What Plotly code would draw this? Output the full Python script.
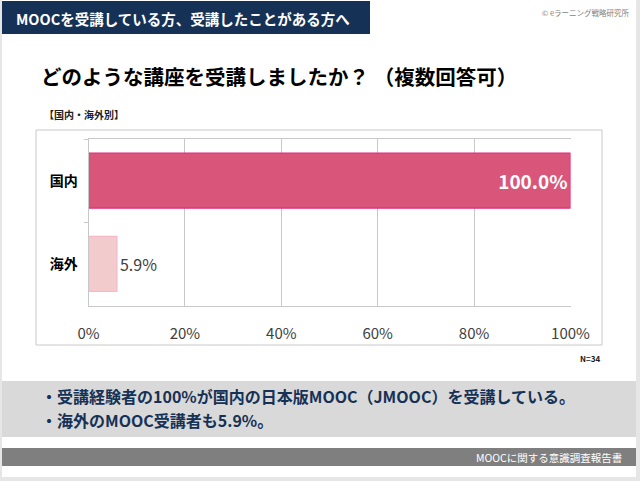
import plotly.graph_objects as go

categories = ["国内", "海外"]
values = [100.0, 5.9]
x_ticks = [0, 20, 40, 60, 80, 100]
x_tick_labels = ["0%", "20%", "40%", "60%", "80%", "100%"]

W, H = 640, 481
def px(x): return x / W
def py(y): return 1 - y / H

JP = "Noto Sans CJK JP"

fig = go.Figure()
fig.add_trace(go.Bar(
    y=categories, x=values, orientation="h",
    marker=dict(color=["#d9567a", "#f2cccc"],
                line=dict(color=["#e0287a", "#f5b8cb"], width=1.2)),
    text=[f"<b>{values[0]:.1f}%</b>", f"{values[1]:.1f}%"],
    textposition=["inside", "outside"],
    insidetextanchor="end",
    textfont=dict(family=JP, size=[19, 16], color=["#ffffff", "#404040"]),
    cliponaxis=False,
    hoverinfo="skip",
))

shapes = [
    dict(type="rect", xref="paper", yref="paper", x0=0, x1=1, y0=0, y1=1,
         fillcolor="#e6e6e6", line=dict(width=0), layer="below"),
    dict(type="rect", xref="paper", yref="paper", x0=px(2), x1=px(636), y0=py(477), y1=py(0),
         fillcolor="#ffffff", line=dict(width=0), layer="below"),
    dict(type="rect", xref="paper", yref="paper", x0=px(2), x1=px(370), y0=py(34), y1=py(1),
         fillcolor="#163156", line=dict(width=0), layer="below"),
    dict(type="rect", xref="paper", yref="paper", x0=px(36), x1=px(602), y0=py(345), y1=py(130),
         fillcolor="rgba(0,0,0,0)", line=dict(color="#c8c8c8", width=1), layer="below"),
    dict(type="rect", xref="paper", yref="paper", x0=px(2), x1=px(636), y0=py(437), y1=py(381),
         fillcolor="#d9d9d9", line=dict(width=0), layer="below"),
    dict(type="rect", xref="paper", yref="paper", x0=px(2), x1=px(636), y0=py(466), y1=py(448),
         fillcolor="#7f7f7f", line=dict(width=0), layer="below"),
]

def ann(text, x, y, anchor, size, color, **kw):
    return dict(text=text, x=px(x), y=py(y), xref="paper", yref="paper",
                xanchor=anchor, yanchor="middle", showarrow=False,
                font=dict(family=JP, size=size, color=color), **kw)

annotations = [
    ann("<b>MOOCを受講している方、受講したことがある方へ</b>", 14, 18, "left", 14.5, "#ffffff"),
    ann("© eラーニング戦略研究所", 632, 13, "right", 7.5, "#7f7f7f"),
    ann("<b>どのような講座を受講しましたか？ （複数回答可）</b>", 39, 76, "left", 20.5, "#000000"),
    ann("<b>【国内・海外別】</b>", 42, 114, "left", 10, "#202020"),
    ann("<b>N=34</b>", 602, 358, "right", 8, "#202020"),
    ann("<b>・受講経験者の100%が国内の日本版MOOC（JMOOC）を受講している。</b>",
        39, 395.5, "left", 16, "#163156"),
    ann("<b>・海外のMOOC受講者も5.9%。</b>", 39, 419.5, "left", 16, "#163156"),
    ann("MOOCに関する意識調査報告書", 624, 457, "right", 10.5, "#ffffff"),
]

fig.update_layout(
    width=W, height=H,
    margin=dict(l=0, r=0, t=0, b=0, pad=0),
    paper_bgcolor="#ffffff", plot_bgcolor="rgba(0,0,0,0)",
    showlegend=False,
    bargap=0.34,
    shapes=shapes,
    annotations=annotations,
    xaxis=dict(domain=[px(88.5), px(570.5)], range=[0, 100],
               tickvals=x_ticks, ticktext=x_tick_labels,
               showgrid=True, gridcolor="#c8c8c8", gridwidth=1,
               showline=True, linecolor="#c8c8c8", linewidth=1, mirror=True,
               ticks="outside", ticklen=0, ticklabelstandoff=14,
               tickfont=dict(family=JP, size=15, color="#404040"),
               zeroline=False, fixedrange=True, automargin=False),
    yaxis=dict(domain=[py(305.5), py(139)], categoryorder="array",
               categoryarray=categories, autorange="reversed",
               showline=True, linecolor="#c8c8c8", linewidth=1,
               ticks="outside", tickson="boundaries", ticklen=4, tickcolor="#c8c8c8",
               ticklabelstandoff=7,
               tickfont=dict(family=JP, size=14, color="#000000"),
               showgrid=False, fixedrange=True, automargin=False),
)
fig.update_yaxes(tickvals=categories, ticktext=[f"<b>{c}</b>" for c in categories])

fig.write_html("out.html",
               post_script="document.body.style.margin='0';document.body.style.overflow='hidden';")
